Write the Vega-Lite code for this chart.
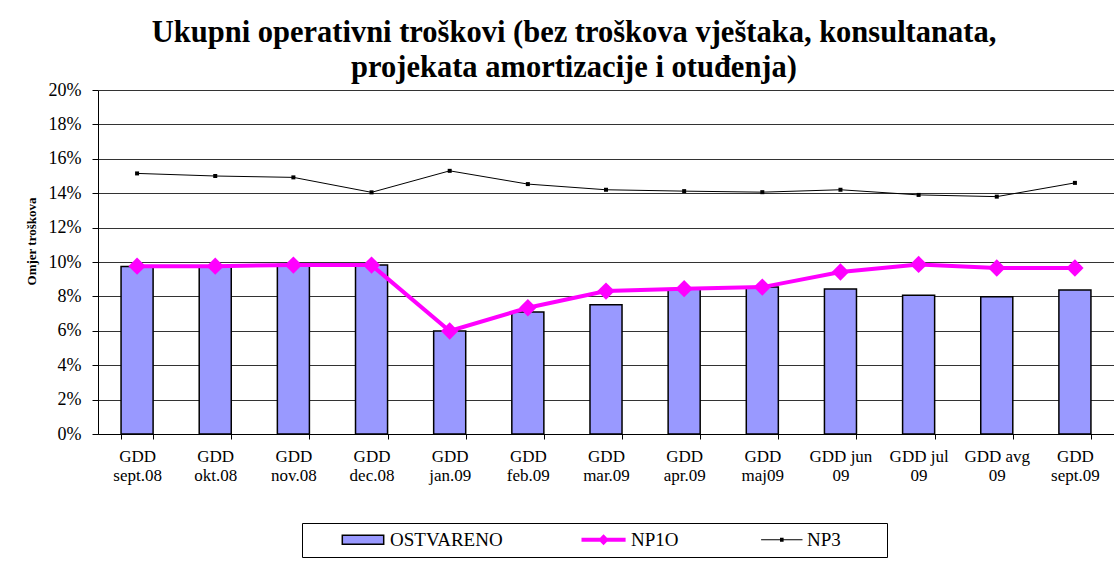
{
  "$schema": "https://vega.github.io/schema/vega-lite/v6.json",
  "width": 1016,
  "height": 344,
  "autosize": {"type": "none"},
  "padding": {"left": 98, "top": 90, "right": 0, "bottom": 131},
  "background": "white",
  "config": {"view": {"stroke": null}, "font": "Liberation Serif"},
  "title": {
    "text": ["Ukupni operativni troškovi (bez troškova vještaka, konsultanata,", "projekata amortizacije i otuđenja)"],
    "font": "Liberation Serif",
    "fontSize": 30.5,
    "fontWeight": "bold",
    "lineHeight": 35,
    "anchor": "middle",
    "dx": -32,
    "offset": -2,
    "color": "black"
  },
  "data": {
    "values": [
      {"month": "GDD|sept.08", "series": "OSTVARENO", "value": 0.0974},
      {"month": "GDD|okt.08", "series": "OSTVARENO", "value": 0.0972},
      {"month": "GDD|nov.08", "series": "OSTVARENO", "value": 0.0985},
      {"month": "GDD|dec.08", "series": "OSTVARENO", "value": 0.0982},
      {"month": "GDD|jan.09", "series": "OSTVARENO", "value": 0.0599},
      {"month": "GDD|feb.09", "series": "OSTVARENO", "value": 0.0709},
      {"month": "GDD|mar.09", "series": "OSTVARENO", "value": 0.0751},
      {"month": "GDD|apr.09", "series": "OSTVARENO", "value": 0.0842},
      {"month": "GDD|maj09", "series": "OSTVARENO", "value": 0.0854},
      {"month": "GDD jun|09", "series": "OSTVARENO", "value": 0.0843},
      {"month": "GDD jul|09", "series": "OSTVARENO", "value": 0.0806},
      {"month": "GDD avg|09", "series": "OSTVARENO", "value": 0.0798},
      {"month": "GDD|sept.09", "series": "OSTVARENO", "value": 0.0837},
      {"month": "GDD|sept.08", "series": "NP1O", "value": 0.0976},
      {"month": "GDD|okt.08", "series": "NP1O", "value": 0.0976},
      {"month": "GDD|nov.08", "series": "NP1O", "value": 0.0982},
      {"month": "GDD|dec.08", "series": "NP1O", "value": 0.0982},
      {"month": "GDD|jan.09", "series": "NP1O", "value": 0.0599},
      {"month": "GDD|feb.09", "series": "NP1O", "value": 0.0734},
      {"month": "GDD|mar.09", "series": "NP1O", "value": 0.0831},
      {"month": "GDD|apr.09", "series": "NP1O", "value": 0.0845},
      {"month": "GDD|maj09", "series": "NP1O", "value": 0.0854},
      {"month": "GDD jun|09", "series": "NP1O", "value": 0.0942},
      {"month": "GDD jul|09", "series": "NP1O", "value": 0.0986},
      {"month": "GDD avg|09", "series": "NP1O", "value": 0.0965},
      {"month": "GDD|sept.09", "series": "NP1O", "value": 0.0965},
      {"month": "GDD|sept.08", "series": "NP3", "value": 0.1515},
      {"month": "GDD|okt.08", "series": "NP3", "value": 0.1500},
      {"month": "GDD|nov.08", "series": "NP3", "value": 0.1492},
      {"month": "GDD|dec.08", "series": "NP3", "value": 0.1405},
      {"month": "GDD|jan.09", "series": "NP3", "value": 0.1530},
      {"month": "GDD|feb.09", "series": "NP3", "value": 0.1453},
      {"month": "GDD|mar.09", "series": "NP3", "value": 0.1420},
      {"month": "GDD|apr.09", "series": "NP3", "value": 0.1412},
      {"month": "GDD|maj09", "series": "NP3", "value": 0.1406},
      {"month": "GDD jun|09", "series": "NP3", "value": 0.1420},
      {"month": "GDD jul|09", "series": "NP3", "value": 0.1390},
      {"month": "GDD avg|09", "series": "NP3", "value": 0.1380},
      {"month": "GDD|sept.09", "series": "NP3", "value": 0.1460}
    ]
  },
  "encoding": {
    "x": {
      "field": "month",
      "type": "nominal",
      "sort": null,
      "scale": {"paddingInner": 0.59, "paddingOuter": 0.295},
      "axis": {
        "title": null,
        "labelExpr": "isValid(datum.value) ? split(datum.value, '|') : ''",
        "labelAngle": 0,
        "labelFont": "Liberation Serif",
        "labelFontSize": 17,
        "labelLineHeight": 19,
        "labelColor": "black",
        "labelPadding": 9,
        "labelLimit": 0,
        "labelOverlap": false,
        "tickBand": "extent",
        "tickSize": 5,
        "tickColor": "black",
        "domainColor": "black",
        "domainWidth": 1,
        "grid": false
      }
    },
    "y": {
      "field": "value",
      "type": "quantitative",
      "scale": {"domain": [0, 0.2], "nice": false, "zero": true},
      "axis": {
        "values": [0, 0.02, 0.04, 0.06, 0.08, 0.1, 0.12, 0.14, 0.16, 0.18, 0.2],
        "format": ".0%",
        "grid": true,
        "gridColor": "#333333",
        "gridWidth": 1,
        "tickSize": 6,
        "tickColor": "black",
        "domainColor": "black",
        "labelPadding": 11,
        "labelFont": "Liberation Serif",
        "labelFontSize": 18,
        "labelColor": "black",
        "title": "Omjer troškova",
        "titleFont": "Liberation Serif",
        "titleFontSize": 13,
        "titleFontWeight": "bold",
        "titleColor": "black",
        "titleX": -60,
        "titleY": 151
      }
    }
  },
  "layer": [
    {
      "transform": [{"filter": "datum.series === 'OSTVARENO'"}],
      "mark": {"type": "bar", "stroke": "black", "strokeWidth": 1.5},
      "encoding": {
        "fill": {
          "field": "series",
          "type": "nominal",
          "scale": {"domain": ["OSTVARENO", "NP1O", "NP3"], "range": ["#9999FF", "#FF00FF", "#000000"]},
          "legend": {
            "orient": "none",
            "legendX": 204,
            "legendY": 433,
            "direction": "horizontal",
            "title": " ",
            "titleOrient": "left",
            "titleFontSize": 11,
            "titlePadding": 31,
            "strokeColor": "black",
            "fillColor": "white",
            "padding": 7,
            "columnPadding": 78,
            "labelFont": "Liberation Serif",
            "labelFontSize": 19,
            "labelColor": "black",
            "symbolSize": 324,
            "symbolStrokeWidth": 0,
            "labelOffset": 31,
            "encode": {
              "symbols": {
                "update": {
                  "shape": {"signal": "datum.value === 'OSTVARENO' ? 'M-0.8,-0.5H3.8V0.5H-0.8Z' : datum.value === 'NP1O' ? 'M-1,-0.22H3.9V0.22H-1Z M1.45,-0.6L2.05,0L1.45,0.6L0.85,0Z' : 'M-0.6,-0.06H4V0.06H-0.6Z M1.5,-0.22H1.9V0.22H1.5Z M12.5,0H12.51'"},
                  "strokeWidth": {"signal": "datum.value === 'OSTVARENO' ? 1.5 : 0"},
                  "opacity": {"value": 1}
                }
              }
            }
          }
        }
      }
    },
    {
      "transform": [{"filter": "datum.series === 'NP3'"}],
      "mark": {"type": "line", "strokeWidth": 1, "point": {"shape": "square", "size": 16, "filled": true, "fill": "#000000", "strokeWidth": 0}},
      "encoding": {
        "stroke": {
          "field": "series",
          "type": "nominal",
          "scale": {"domain": ["OSTVARENO", "NP1O", "NP3"], "range": ["#000000", "#FF00FF", "#000000"]},
          "legend": {
            "orient": "none",
            "legendX": 204,
            "legendY": 433,
            "direction": "horizontal",
            "title": " ",
            "titleOrient": "left",
            "titleFontSize": 11,
            "titlePadding": 31,
            "strokeColor": "black",
            "fillColor": "white",
            "padding": 7,
            "columnPadding": 78,
            "labelFont": "Liberation Serif",
            "labelFontSize": 19,
            "labelColor": "black",
            "symbolSize": 324,
            "symbolStrokeWidth": 0,
            "labelOffset": 31,
            "encode": {
              "symbols": {
                "update": {
                  "shape": {"signal": "datum.value === 'OSTVARENO' ? 'M-0.8,-0.5H3.8V0.5H-0.8Z' : datum.value === 'NP1O' ? 'M-1,-0.22H3.9V0.22H-1Z M1.45,-0.6L2.05,0L1.45,0.6L0.85,0Z' : 'M-0.6,-0.06H4V0.06H-0.6Z M1.5,-0.22H1.9V0.22H1.5Z M12.5,0H12.51'"},
                  "strokeWidth": {"signal": "datum.value === 'OSTVARENO' ? 1.5 : 0"},
                  "opacity": {"value": 1}
                }
              }
            }
          }
        }
      }
    },
    {
      "transform": [{"filter": "datum.series === 'NP1O'"}],
      "mark": {"type": "line", "strokeWidth": 4, "point": {"shape": "diamond", "size": 300, "filled": true, "fill": "#FF00FF", "strokeWidth": 0}},
      "encoding": {
        "stroke": {
          "field": "series",
          "type": "nominal",
          "scale": {"domain": ["OSTVARENO", "NP1O", "NP3"], "range": ["#000000", "#FF00FF", "#000000"]}
        }
      }
    }
  ]
}
